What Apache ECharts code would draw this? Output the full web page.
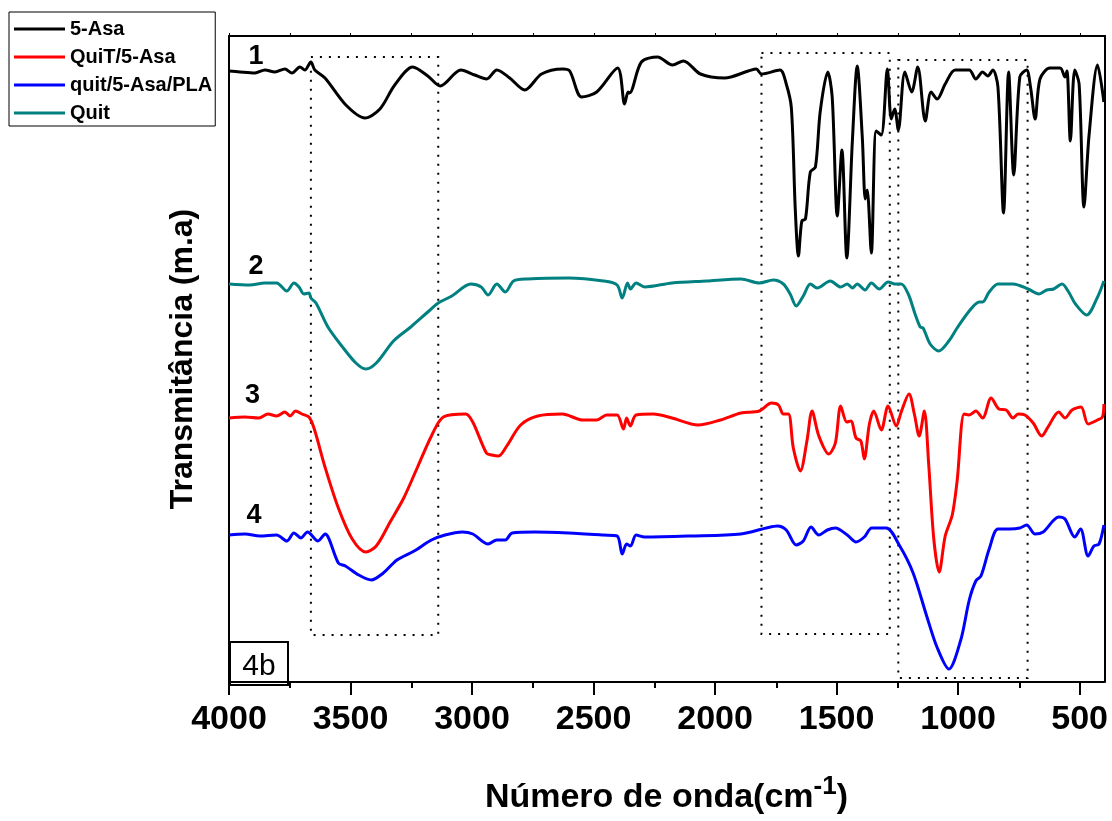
<!DOCTYPE html>
<html>
<head>
<meta charset="utf-8">
<script src="https://cdn.jsdelivr.net/npm/echarts@6.0.0/dist/echarts.min.js"></script>
<style>
  html, body { margin: 0; padding: 0; background: #fff; }
  #chart { width: 1112px; height: 821px; }
</style>
</head>
<body>
<div id="chart"></div>
<script>
// wavenumber (cm-1), transmittance (a.u., curves are offset)
const asaData = [[4000,61.4],[3955,61.3],[3893,61.2],[3852,61.5],[3811,61.3],[3770,61.6],[3741,61.2],[3708,61.8],[3688,61.5],[3663,62.3],[3647,61.5],[3605,60.7],[3519,58.0],[3441,56.7],[3379,57.6],[3318,60.0],[3244,61.8],[3182,60.9],[3131,59.9],[3046,61.5],[2989,61.0],[2940,60.6],[2898,61.5],[2845,60.7],[2783,59.5],[2714,61.1],[2627,61.6],[2598,61.4],[2549,58.8],[2487,59.3],[2401,61.7],[2372,58.1],[2358,59.3],[2352,59.2],[2303,62.3],[2237,62.8],[2175,62.0],[2130,62.4],[2060,61.1],[1961,60.7],[1863,61.4],[1830,61.6],[1809,61.1],[1733,61.5],[1707,60.1],[1686,57.7],[1670,47.6],[1657,42.9],[1643,46.4],[1628,46.6],[1608,51.3],[1587,51.8],[1567,57.4],[1536,61.3],[1518,58.8],[1497,46.9],[1478,53.5],[1458,42.7],[1435,54.4],[1415,61.9],[1394,54.7],[1382,48.6],[1374,49.5],[1357,43.2],[1337,55.4],[1316,55.0],[1291,61.6],[1275,56.6],[1261,57.6],[1246,55.5],[1219,61.3],[1191,59.3],[1166,61.8],[1135,56.4],[1111,59.3],[1086,58.6],[1053,60.1],[1012,61.5],[954,61.5],[927,60.6],[899,61.3],[878,60.9],[857,61.5],[836,59.8],[813,47.2],[792,61.3],[771,51.0],[746,60.8],[718,61.5],[702,59.8],[683,56.6],[663,60.6],[622,61.7],[580,61.7],[560,60.8],[552,61.4],[538,54.4],[520,61.5],[502,60.1],[482,47.8],[461,55.0],[426,62.0],[400,58.3]];

const quitAsaData = [[4000,26.7],[3934,26.8],[3877,26.7],[3840,27.1],[3804,26.9],[3770,27.3],[3749,26.9],[3726,27.4],[3700,27.1],[3671,26.8],[3649,25.6],[3605,21.8],[3550,17.7],[3493,14.6],[3437,13.3],[3394,13.9],[3337,16.3],[3281,18.7],[3224,21.8],[3167,24.9],[3118,26.8],[3026,27.1],[2997,26.3],[2941,23.2],[2919,23.0],[2891,22.9],[2857,23.9],[2800,26.0],[2730,26.9],[2629,27.1],[2545,26.5],[2487,26.5],[2446,27.0],[2403,27.0],[2377,25.6],[2364,26.7],[2349,25.9],[2325,27.0],[2254,27.1],[2177,26.7],[2070,26.0],[1978,26.5],[1894,27.2],[1818,27.4],[1768,28.2],[1739,28.0],[1719,27.1],[1698,27.1],[1678,23.7],[1649,21.4],[1622,24.4],[1601,27.4],[1573,24.9],[1532,23.1],[1505,24.2],[1483,27.9],[1458,26.3],[1441,26.4],[1420,24.7],[1400,24.4],[1386,22.6],[1365,26.1],[1347,27.4],[1316,25.5],[1288,27.9],[1254,25.9],[1234,27.3],[1202,29.1],[1180,27.1],[1160,24.9],[1139,27.4],[1121,22.1],[1100,14.6],[1078,11.3],[1053,14.9],[1024,17.0],[1004,20.4],[975,27.1],[954,27.0],[927,27.4],[899,26.7],[864,28.7],[832,27.6],[802,27.5],[774,26.7],[753,27.1],[725,27.0],[691,26.2],[656,24.9],[630,25.8],[586,27.3],[560,26.7],[531,27.5],[494,27.8],[465,26.1],[426,26.5],[406,26.8],[400,28.1]];

const plaData = [[4000,15.0],[3934,15.1],[3873,14.9],[3804,15.0],[3762,14.4],[3733,15.2],[3704,14.7],[3677,15.3],[3634,14.4],[3605,15.1],[3550,12.2],[3521,11.9],[3466,11.0],[3415,10.5],[3365,11.2],[3309,12.5],[3238,13.4],[3167,14.5],[3111,15.0],[3040,15.3],[2997,15.1],[2934,14.1],[2898,14.5],[2863,14.5],[2835,15.2],[2742,15.3],[2603,15.2],[2459,15.0],[2403,14.9],[2382,13.1],[2364,14.1],[2348,13.9],[2325,15.0],[2290,14.8],[2105,14.9],[1894,15.1],[1789,15.7],[1744,15.9],[1707,15.5],[1666,14.0],[1637,14.4],[1605,15.8],[1573,15.0],[1538,15.5],[1505,15.7],[1456,15.0],[1420,14.3],[1386,14.8],[1355,15.7],[1296,15.7],[1240,13.9],[1185,11.2],[1128,6.8],[1087,3.8],[1038,1.6],[989,4.5],[954,8.5],[927,10.4],[906,10.9],[872,13.6],[836,15.6],[788,15.6],[746,15.7],[718,16.0],[683,15.1],[650,15.3],[586,16.8],[560,16.6],[520,14.8],[496,15.6],[465,12.9],[441,13.9],[420,14.1],[400,16.0]];

const quitData = [[4000,40.1],[3914,40.0],[3852,40.2],[3804,40.2],[3762,39.4],[3733,40.2],[3712,39.8],[3692,39.1],[3671,39.2],[3663,38.7],[3642,38.2],[3593,35.8],[3536,33.9],[3478,32.2],[3437,31.6],[3394,32.2],[3323,34.4],[3252,35.8],[3182,37.3],[3139,38.2],[3083,38.9],[3005,40.1],[2962,39.8],[2934,39.0],[2898,40.1],[2863,39.3],[2829,40.4],[2771,40.6],[2603,40.7],[2459,40.4],[2403,40.0],[2382,38.7],[2360,40.2],[2348,39.6],[2325,40.2],[2290,39.8],[2177,40.2],[2035,40.4],[1894,40.6],[1818,40.2],[1760,40.5],[1719,40.1],[1691,39.1],[1666,37.9],[1637,38.9],[1608,40.1],[1580,39.7],[1526,40.4],[1483,39.8],[1456,40.1],[1435,39.7],[1415,40.1],[1383,39.5],[1357,40.2],[1324,39.6],[1288,40.3],[1260,40.1],[1234,40.1],[1205,39.1],[1177,37.1],[1156,35.8],[1144,35.7],[1115,34.1],[1080,33.4],[1038,34.4],[1004,35.7],[954,37.4],[913,38.3],[899,38.3],[872,39.3],[836,40.1],[774,40.1],[712,39.6],[667,39.1],[635,39.5],[607,39.6],[572,40.1],[545,39.3],[517,38.1],[471,37.0],[426,38.8],[400,40.4]];

const seriesNames = ['5-Asa', 'QuiT/5-Asa', 'quit/5-Asa/PLA', 'Quit'];
const seriesColors = ['#000000', '#ff0000', '#0000ff', '#008080'];
const seriesValues = [asaData, quitAsaData, plaData, quitData];

// curve numbers: [text, wavenumber, value]
const curveTags = [['1', 3889, 62.8], ['3', 3903, 28.9], ['4', 3897, 16.9], ['2', 3889, 41.8]];

// dotted regions: [x1, y1, x2, y2]
const regionBoxes = [[3663, 62.8, 3139, 5.0], [1809, 63.2, 1281, 5.1], [1246, 62.5, 714, 0.7]];

const majorTicks = [4000, 3500, 3000, 2500, 2000, 1500, 1000, 500];
const minorTicks = [3750, 3250, 2750, 2250, 1750, 1250, 750];
const topTicks = [4000, 3750, 3500, 3250, 3000, 2750, 2500, 2250, 2000, 1750, 1500, 1250, 1000, 750, 500];

const FONT = 'Liberation Sans';
const chart = echarts.init(document.getElementById('chart'));

const gridBox = { left: 229, right: 7, top: 36, bottom: 139 };
const xRange = { min: 400, max: 4000, inverse: true };
const yRange = { min: 0.3, max: 64.9 };

const series = seriesNames.map((name, i) => ({
  name: name,
  type: 'line',
  data: seriesValues[i],
  xAxisIndex: 0,
  yAxisIndex: 0,
  symbol: 'none',
  smooth: 0.3,
  lineStyle: { color: seriesColors[i], width: 3 },
  itemStyle: { color: seriesColors[i] },
  z: 3,
  markPoint: {
    silent: true,
    symbol: 'circle',
    symbolSize: 1,
    itemStyle: { color: 'rgba(0,0,0,0)' },
    label: {
      show: true,
      position: 'inside',
      formatter: curveTags[i][0],
      fontFamily: FONT,
      fontWeight: 'bold',
      fontSize: 27,
      color: '#000'
    },
    data: [{ coord: [curveTags[i][1], curveTags[i][2]] }]
  }
}));

series[0].markArea = {
  silent: true,
  itemStyle: {
    color: 'rgba(0,0,0,0)',
    borderColor: '#000',
    borderWidth: 2,
    borderType: [2, 7]
  },
  data: regionBoxes.map(b => [{ coord: [b[0], b[1]] }, { coord: [b[2], b[3]] }])
};

const option = {
  animation: false,
  backgroundColor: '#fff',
  grid: [
    Object.assign({}, gridBox),
    Object.assign({}, gridBox)
  ],
  legend: {
    data: seriesNames,
    orient: 'vertical',
    left: 9,
    top: 12,
    padding: [7, 3, 3, 5],
    icon: 'rect',
    itemGap: 8,
    itemWidth: 51,
    itemHeight: 3,
    borderColor: '#000',
    borderWidth: 1,
    backgroundColor: '#fff',
    textStyle: { fontFamily: FONT, fontSize: 20, fontWeight: 'bold', color: '#000', lineHeight: 20 }
  },
  xAxis: [
    Object.assign({
      type: 'value',
      gridIndex: 0,
      position: 'bottom',
      name: 'Número de onda(cm{sup|-1})',
      nameLocation: 'middle',
      nameGap: 92,
      nameTextStyle: {
        fontFamily: FONT, fontSize: 34, fontWeight: 'bold', color: '#000',
        rich: { sup: { fontFamily: FONT, fontSize: 26, fontWeight: 'bold', color: '#000', padding: [0, 0, 22, 0] } }
      },
      axisLine: { show: true, lineStyle: { color: '#000', width: 2 } },
      axisTick: { show: true, customValues: majorTicks, length: 13, lineStyle: { color: '#000', width: 2 } },
      axisLabel: {
        show: true, customValues: majorTicks, margin: 21,
        formatter: v => String(v),
        fontFamily: FONT, fontSize: 34, fontWeight: 'bold', color: '#000'
      },
      splitLine: { show: false }
    }, xRange),
    Object.assign({
      type: 'value',
      gridIndex: 1,
      position: 'bottom',
      axisLine: { show: false },
      axisTick: { show: true, customValues: minorTicks, length: 6, lineStyle: { color: '#000', width: 2 } },
      axisLabel: { show: false },
      splitLine: { show: false }
    }, xRange),
    Object.assign({
      type: 'value',
      gridIndex: 1,
      position: 'top',
      axisLine: { show: true, lineStyle: { color: '#000', width: 2 } },
      axisTick: { show: true, customValues: topTicks, length: 3, lineStyle: { color: '#000', width: 1 } },
      axisLabel: { show: false },
      splitLine: { show: false }
    }, xRange)
  ],
  yAxis: [
    Object.assign({
      type: 'value',
      gridIndex: 0,
      position: 'left',
      name: 'Transmitância (m.a)',
      nameLocation: 'middle',
      nameGap: 30,
      nameTextStyle: { fontFamily: FONT, fontSize: 32, fontWeight: 'bold', color: '#000' },
      axisLine: { show: true, lineStyle: { color: '#000', width: 2 } },
      axisTick: { show: false },
      axisLabel: { show: false },
      splitLine: { show: false }
    }, yRange),
    Object.assign({
      type: 'value',
      gridIndex: 1,
      position: 'right',
      axisLine: { show: true, lineStyle: { color: '#000', width: 2 } },
      axisTick: { show: false },
      axisLabel: { show: false },
      splitLine: { show: false }
    }, yRange)
  ],
  graphic: [
    {
      type: 'group',
      left: 229,
      top: 641,
      children: [
        { type: 'rect', shape: { x: 0, y: 0, width: 58, height: 43 }, style: { fill: '#fff', stroke: '#000', lineWidth: 2 } },
        { type: 'text', x: 29, y: 25, style: { text: '4b', fontFamily: FONT, fontSize: 30, fill: '#000', align: 'center', verticalAlign: 'middle' } }
      ]
    }
  ],
  series: series
};

chart.setOption(option);
</script>
</body>
</html>
